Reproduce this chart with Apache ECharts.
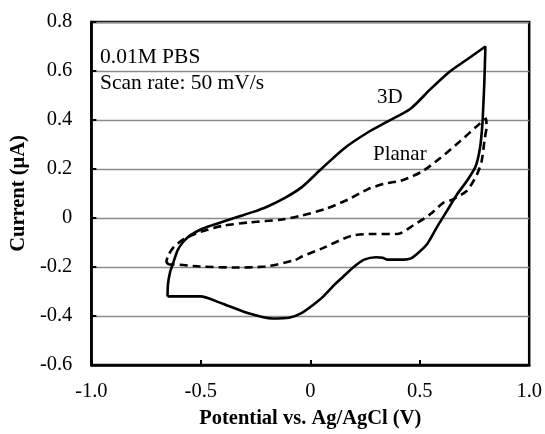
<!DOCTYPE html>
<html>
<head>
<meta charset="utf-8">
<script src="https://cdn.jsdelivr.net/npm/echarts@6/dist/echarts.min.js"></script>
<style>
  html, body { margin: 0; padding: 0; background: #fff; }
  #chart { width: 545px; height: 434px; }
</style>
</head>
<body>
<div id="chart"></div>
<script>
// Cyclic voltammograms: 3D electrode (solid) vs planar electrode (dashed)
const potential3D = [
  -0.652, -0.650, -0.640, -0.625, -0.605, -0.580, -0.550, -0.503, -0.450, -0.400,
  -0.330, -0.260, -0.200, -0.120, -0.040, 0.050, 0.156, 0.264, 0.354, 0.458,
  0.549, 0.639, 0.716, 0.800,
  0.795, 0.790, 0.786, 0.776, 0.755, 0.716, 0.670, 0.625, 0.580, 0.535,
  0.490, 0.460, 0.427, 0.354, 0.330, 0.300, 0.246, 0.201, 0.150, 0.111,
  0.060, 0.020, -0.038, -0.097, -0.174, -0.278, -0.400, -0.503, -0.652
];
const current3D = [
  -0.320, -0.270, -0.220, -0.180, -0.130, -0.097, -0.072, -0.048, -0.030, -0.015,
  0.005, 0.025, 0.045, 0.080, 0.125, 0.200, 0.285, 0.350, 0.394, 0.446,
  0.526, 0.599, 0.647, 0.700,
  0.550, 0.450, 0.380, 0.290, 0.210, 0.152, 0.096, 0.030, -0.035, -0.105,
  -0.145, -0.165, -0.170, -0.170, -0.162, -0.160, -0.170, -0.198, -0.240, -0.272,
  -0.320, -0.350, -0.387, -0.407, -0.410, -0.390, -0.350, -0.320, -0.320
];

const potentialPlanar = [
  -0.645, -0.657, -0.650, -0.625, -0.580, -0.503, -0.400, -0.278, -0.129, -0.040,
  0.066, 0.174, 0.264, 0.340, 0.413, 0.470, 0.517, 0.594, 0.684, 0.760, 0.803,
  0.805, 0.797, 0.783, 0.761, 0.716, 0.652, 0.607, 0.549, 0.472, 0.399,
  0.291, 0.187, 0.052, -0.038, -0.070, -0.205, -0.354, -0.503, -0.625, -0.645
];
const currentPlanar = [
  -0.190, -0.180, -0.155, -0.120, -0.087, -0.057, -0.032, -0.018, -0.006, 0.010,
  0.036, 0.076, 0.118, 0.140, 0.152, 0.172, 0.193, 0.245, 0.313, 0.374, 0.406,
  0.370, 0.325, 0.233, 0.177, 0.112, 0.076, 0.062, 0.016, -0.029, -0.065,
  -0.065, -0.073, -0.125, -0.157, -0.172, -0.198, -0.202, -0.198, -0.190, -0.190
];

const xTickLabels = ['-1.0', '-0.5', '0', '0.5', '1.0'];
const yTickLabels = ['-0.6', '-0.4', '-0.2', '0', '0.2', '0.4', '0.6', '0.8'];

const FONT = '"Liberation Serif", "Times New Roman", serif';

function zip(xs, ys) { return xs.map((x, i) => [x, ys[i]]); }

const chart = echarts.init(document.getElementById('chart'), null, { renderer: 'canvas' });

chart.setOption({
  animation: false,
  backgroundColor: '#ffffff',
  grid: {
    left: 87, right: 15, top: 22, bottom: 64,
    show: true, borderColor: '#000', borderWidth: 2.5, backgroundColor: 'transparent'
  },
  xAxis: {
    type: 'value', min: -1, max: 1, interval: 0.5,
    name: 'Potential vs. Ag/AgCl (V)', nameLocation: 'middle', nameGap: 43,
    nameTextStyle: { fontFamily: FONT, fontSize: 20.5, fontWeight: 'bold', color: '#000' },
    axisLine: { show: true, onZero: false, lineStyle: { color: '#000', width: 2.5 } },
    axisTick: { show: true, inside: true, length: 5, lineStyle: { color: '#000', width: 2 } },
    axisLabel: {
      margin: 16, fontFamily: FONT, fontSize: 20.5, color: '#000',
      formatter: v => xTickLabels[Math.round((v + 1) / 0.5)]
    },
    splitLine: { show: false }
  },
  yAxis: {
    type: 'value', min: -0.6, max: 0.8, interval: 0.2,
    name: 'Current (μA)', nameLocation: 'middle', nameGap: 55, nameRotate: 90,
    nameTextStyle: { fontFamily: FONT, fontSize: 20.5, fontWeight: 'bold', color: '#000' },
    axisLine: { show: true, onZero: false, lineStyle: { color: '#000', width: 2.5 } },
    axisTick: { show: true, inside: true, length: 5, lineStyle: { color: '#000', width: 2 } },
    axisLabel: {
      margin: 19, fontFamily: FONT, fontSize: 20.5, color: '#000',
      formatter: v => yTickLabels[Math.round((v + 0.6) / 0.2)]
    },
    splitLine: { show: true, lineStyle: { color: '#8c8c8c', width: 1.3 } }
  },
  series: [
    {
      name: '3D', type: 'line', data: zip(potential3D, current3D),
      showSymbol: false, smooth: 0.25, clip: false,
      lineStyle: { color: '#000', width: 2.6, type: 'solid' }
    },
    {
      name: 'Planar', type: 'line', data: zip(potentialPlanar, currentPlanar),
      showSymbol: false, smooth: 0.25, clip: false,
      lineStyle: { color: '#000', width: 2.6, type: [8, 5] }
    }
  ],
  graphic: [
    { type: 'text', left: 100, top: 46, style: { text: '0.01M PBS', font: '21.5px ' + FONT, fill: '#000' } },
    { type: 'text', left: 100, top: 72, style: { text: 'Scan rate: 50 mV/s', font: '21.5px ' + FONT, fill: '#000' } },
    { type: 'text', left: 377, top: 87, style: { text: '3D', font: '21px ' + FONT, fill: '#000' } },
    { type: 'text', left: 373, top: 144, style: { text: 'Planar', font: '21px ' + FONT, fill: '#000' } }
  ]
});
</script>
</body>
</html>
